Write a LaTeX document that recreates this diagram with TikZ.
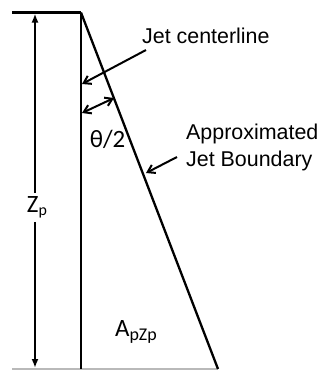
\documentclass[tikz,border=0pt]{standalone}
\usepackage{fontspec}
\setmainfont{Liberation Sans}
\newfontfamily\calib{Carlito}
\usetikzlibrary{arrows.meta}
\begin{document}
\begin{tikzpicture}[x=1bp,y=-1bp,
  barb/.style={line width=2bp,-{Straight Barb[length=7bp,width=9bp]}},
  dblbarb/.style={line width=2bp,{Straight Barb[length=7bp,width=9bp]}-{Straight Barb[length=7bp,width=9bp]}},
  dim/.style={line width=2.5bp,-{Latex[length=9bp,width=7bp]}},
  lbl/.style={font=\fontsize{21.5}{27}\selectfont, inner sep=0pt, align=left},
  sym/.style={font=\calib\fontsize{25}{28}\selectfont, inner sep=0pt}]
\useasboundingbox (0,0) rectangle (320,370);
% geometry
\coordinate (tl) at (12,12.5);
\coordinate (apex) at (81,12.5);
\coordinate (cb) at (81,369);
\coordinate (sb) at (218,369);
\coordinate (bl) at (12,369);
\draw[gray!55, line width=1.2bp] (bl) -- (sb);
\draw[line width=2.2bp] (tl) -- (apex);
\draw[line width=1.7bp] (apex) -- (cb);
\draw[line width=2.3bp] (apex) -- (sb);
% dimension Zp
\coordinate (dimtop) at (35,13.5);
\coordinate (dimbot) at (35,368);
\node[sym] (zp) at (37,207) {Z\raisebox{-0.25ex}{\fontsize{16}{16}\selectfont p}};
\draw[dim] (dimtop |- zp.north) ++(0,-3) -- (dimtop);
\draw[dim] (dimbot |- zp.south) ++(0,4) -- (dimbot);
% labels
\node[lbl, anchor=base west] (jcl) at (142,43) {Jet centerline};
\node[lbl, anchor=north west] (ajb) at (186,124) {Approximated\\Jet Boundary};
\node[sym] (theta) at (107.5,139) {θ/2};
\node[sym] (apz) at (136,332) {A\raisebox{-0.35ex}{\fontsize{18}{18}\selectfont pZp}};
% arrows
\coordinate (jc1) at (146,50);
\coordinate (jc2) at (82,84);
\draw[barb] (jc1) -- (jc2);
\coordinate (a1) at (82,113);
\coordinate (a2) at (114,98);
\draw[dblbarb] (a1) -- (a2);
\coordinate (b1) at (177,157);
\coordinate (b2) at (146,173);
\draw[barb] (b1) -- (b2);
\end{tikzpicture}
\end{document}
